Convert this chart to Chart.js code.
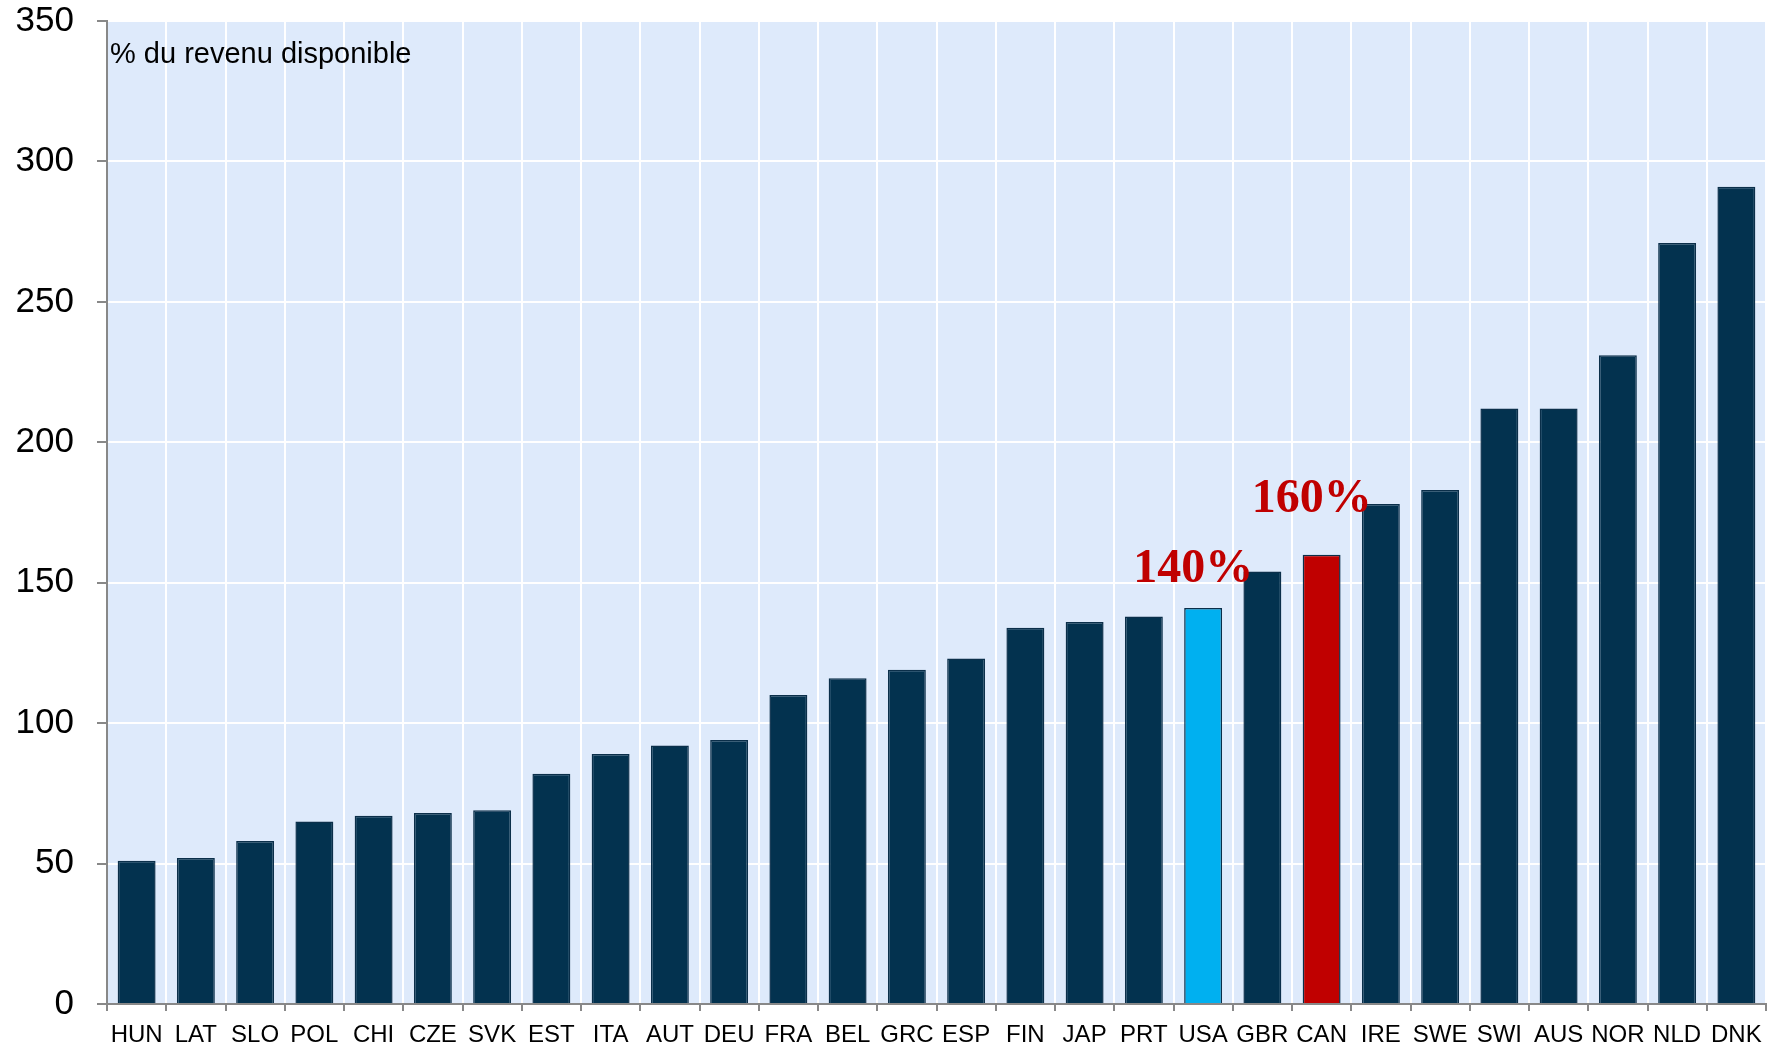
<!DOCTYPE html>
<html>
<head>
<meta charset="utf-8">
<script src="https://cdn.jsdelivr.net/npm/chart.js@4/dist/chart.umd.min.js"></script>
<style>
  body { margin: 0; background: #fff; }
  #wrap { width: 1777px; height: 1047px; }
</style>
</head>
<body>
<div id="wrap"><canvas id="barChart"></canvas></div>
<script>
const countries = ['HUN', 'LAT', 'SLO', 'POL', 'CHI', 'CZE', 'SVK', 'EST', 'ITA', 'AUT',
    'DEU', 'FRA', 'BEL', 'GRC', 'ESP', 'FIN', 'JAP', 'PRT', 'USA', 'GBR',
    'CAN', 'IRE', 'SWE', 'SWI', 'AUS', 'NOR', 'NLD', 'DNK'];
const debtRatio = [51, 52, 58, 65, 67, 68, 69, 82, 89, 92,
    94, 110, 116, 119, 123, 134, 136, 138, 141, 154,
    160, 178, 183, 212, 212, 231, 271, 291];
const barLabels = ['', '', '', '', '', '', '', '', '', '',
    '', '', '', '', '', '', '', '', '140%', '',
    '160%', '', '', '', '', '', '', ''];
const yTicks = [0, 50, 100, 150, 200, 250, 300, 350];

const navy = '#03324F';
const barColors = countries.map(c => c === 'USA' ? '#00B0F0' : c === 'CAN' ? '#C00000' : navy);

// light blue plot background
const plotBg = {
    id: 'plotBg',
    beforeDraw(chart) {
        const { ctx, chartArea: a } = chart;
        ctx.save();
        ctx.fillStyle = '#DEEAFB';
        ctx.fillRect(a.left, a.top, a.right - a.left, a.bottom - a.top);
        ctx.restore();
    }
};

// unit note + the two red percentages
const notes = {
    id: 'notes',
    afterDraw(chart) {
        const { ctx, chartArea: a } = chart;
        ctx.save();
        ctx.fillStyle = '#000';
        ctx.font = '29px "Liberation Sans", Arial, sans-serif';
        ctx.textAlign = 'left';
        ctx.textBaseline = 'alphabetic';
        ctx.fillText('% du revenu disponible', a.left + 3, a.top + 42);

        ctx.fillStyle = '#C00000';
        ctx.font = 'bold 48px "Liberation Serif", "Times New Roman", serif';
        ctx.textAlign = 'center';
        const lift = { '140%': 26, '160%': 43 };
        chart.getDatasetMeta(0).data.forEach((bar, i) => {
            if (!barLabels[i]) return;
            ctx.fillText(barLabels[i], bar.x - 10, bar.y - lift[barLabels[i]]);
        });
        ctx.restore();
    }
};

new Chart(document.getElementById('barChart'), {
    type: 'bar',
    data: {
        labels: countries,
        datasets: [{
            data: debtRatio,
            backgroundColor: barColors,
            borderColor: '#0B2F4A',
            borderWidth: 1.5,
            categoryPercentage: 1,
            barPercentage: 0.64
        }]
    },
    options: {
        responsive: true,
        maintainAspectRatio: false,
        animation: false,
        layout: { padding: { top: 21, right: 11, left: 0, bottom: 0 } },
        plugins: {
            legend: { display: false },
            tooltip: { enabled: false }
        },
        scales: {
            x: {
                grid: { color: '#FFFFFF', lineWidth: 2, offset: true, tickColor: '#888', tickLength: 7 },
                border: { color: '#888', width: 2 },
                ticks: {
                    color: '#000',
                    font: { family: '"Liberation Sans", Arial, sans-serif', size: 24 },
                    padding: 10,
                    autoSkip: false,
                    maxRotation: 0
                },
                afterFit(scale) {
                    scale.height = 43;
                    scale.paddingLeft = 0;
                    scale.paddingRight = 0;
                }
            },
            y: {
                min: 0,
                max: 350,
                afterBuildTicks(scale) { scale.ticks = yTicks.map(v => ({ value: v })); },
                grid: { color: '#FFFFFF', lineWidth: 2, tickColor: '#888', tickLength: 10 },
                border: { color: '#888', width: 2 },
                ticks: {
                    color: '#000',
                    font: { family: '"Liberation Sans", Arial, sans-serif', size: 35 },
                    padding: 23
                },
                afterFit(scale) {
                    scale.width = 107;
                    scale.paddingTop = 0;
                    scale.paddingBottom = 0;
                }
            }
        }
    },
    plugins: [plotBg, notes]
});
</script>
</body>
</html>
